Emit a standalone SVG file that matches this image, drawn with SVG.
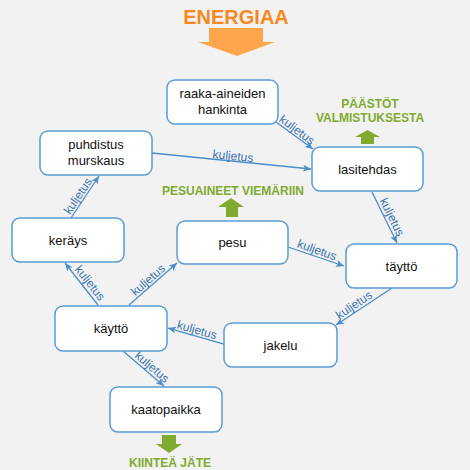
<svg xmlns="http://www.w3.org/2000/svg" width="470" height="470" viewBox="0 0 470 470">
<defs>
<style>
.node rect{fill:#fff;stroke:#5b9bd5;stroke-width:1.5}
.node text{font-family:"Liberation Sans",Arial,sans-serif;font-size:13px;fill:#111;text-anchor:middle}
.conn line{stroke:#4a8dcb;stroke-width:1.3;marker-end:url(#ah)}
.lbl{font-family:"Liberation Sans",Arial,sans-serif;font-size:12px;fill:#3a75b0;text-anchor:middle}
.gt{font-family:"Liberation Sans",Arial,sans-serif;font-size:12px;font-weight:bold;fill:#80aa30;text-anchor:middle}
</style>
<marker id="ah" markerWidth="9" markerHeight="8" refX="8" refY="4" orient="auto" markerUnits="userSpaceOnUse">
<path d="M0,0.5 L8,4 L0,7.5 L2,4 z" fill="#4a8dcb"/>
</marker>
</defs>
<rect width="470" height="470" fill="#f2f2f2"/>
<g id="energia">
<text x="236" y="24" font-family="Liberation Sans,Arial,sans-serif" font-size="20" font-weight="bold" fill="#f7871f" text-anchor="middle">ENERGIAA</text>
<path d="M209,28 H263 V42 H275 L237,56 L198,42 H209 Z" fill="#ffa64d"/>
</g>
<g id="outputs">
<text class="gt" x="370" y="108">PÄÄSTÖT</text>
<text class="gt" x="370" y="122">VALMISTUKSESTA</text>
<path d="M361,144 V137 H355 L367.5,130 L380,137 H374 V144 Z" fill="#80aa30"/>
<text class="gt" x="233" y="195">PESUAINEET VIEMÄRIIN</text>
<path d="M226,217 V207 H218 L231,198 L244,207 H238 V217 Z" fill="#80aa30"/>
<path d="M162,435 V444 H156 L169,453 L182,444 H176 V435 Z" fill="#80aa30"/>
<text class="gt" x="170" y="467">KIINTEÄ JÄTE</text>
</g>
<g id="connectors" class="conn">
<line x1="276" y1="122" x2="313" y2="149"/>
<line x1="152" y1="153" x2="311" y2="169"/>
<line x1="372" y1="192" x2="397" y2="243"/>
<line x1="288" y1="247" x2="344" y2="266"/>
<line x1="392" y1="288" x2="336" y2="325"/>
<line x1="224" y1="344" x2="168" y2="328"/>
<line x1="123" y1="351" x2="164" y2="386"/>
<line x1="98" y1="305" x2="65" y2="263"/>
<line x1="129" y1="305" x2="177" y2="263"/>
<line x1="71" y1="218" x2="99" y2="176"/>
</g>
<g id="labels">
<text class="lbl" transform="translate(297,130) rotate(37)" y="4">kuljetus</text>
<text class="lbl" transform="translate(233,156) rotate(5.7)" y="4">kuljetus</text>
<text class="lbl" transform="translate(392,217) rotate(64)" y="4">kuljetus</text>
<text class="lbl" transform="translate(317,250) rotate(19.7)" y="4">kuljetus</text>
<text class="lbl" transform="translate(354,305) rotate(-34)" y="4">kuljetus</text>
<text class="lbl" transform="translate(197,330) rotate(16)" y="4">kuljetus</text>
<text class="lbl" transform="translate(152,367) rotate(41)" y="4">kuljetus</text>
<text class="lbl" transform="translate(90,283) rotate(52)" y="4">kuljetus</text>
<text class="lbl" transform="translate(148,280) rotate(-41)" y="4">kuljetus</text>
<text class="lbl" transform="translate(78,196) rotate(-56)" y="4">kuljetus</text>
</g>
<g id="raaka" class="node"><rect x="167" y="80" width="111" height="44" rx="8"/><text x="222.5" y="98">raaka-aineiden</text><text x="222.5" y="114">hankinta</text></g>
<g id="lasitehdas" class="node"><rect x="312" y="147" width="111" height="44" rx="8"/><text x="367.5" y="173.5">lasitehdas</text></g>
<g id="puhdistus" class="node"><rect x="40" y="131" width="112" height="44" rx="8"/><text x="96" y="149">puhdistus</text><text x="96" y="165">murskaus</text></g>
<g id="kerays" class="node"><rect x="12" y="218" width="112" height="44" rx="8"/><text x="68" y="244.5">keräys</text></g>
<g id="pesu" class="node"><rect x="177" y="221" width="111" height="43" rx="8"/><text x="232.5" y="247">pesu</text></g>
<g id="taytto" class="node"><rect x="346" y="244" width="111" height="44" rx="8"/><text x="401.5" y="270.5">täyttö</text></g>
<g id="kaytto" class="node"><rect x="55" y="306" width="112" height="45" rx="8"/><text x="111" y="333">käyttö</text></g>
<g id="jakelu" class="node"><rect x="224" y="323" width="113" height="44" rx="8"/><text x="280.5" y="350">jakelu</text></g>
<g id="kaatopaikka" class="node"><rect x="110" y="387" width="112" height="45" rx="8"/><text x="166" y="414">kaatopaikka</text></g>
</svg>
